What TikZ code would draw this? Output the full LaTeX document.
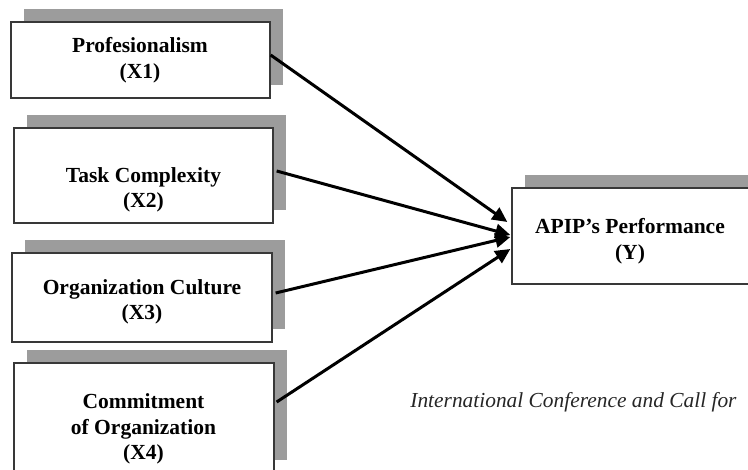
\documentclass[tikz,border=0pt]{standalone}
\usepackage{fontspec}
\setmainfont{Liberation Serif}
\usetikzlibrary{shadows,arrows.meta,calc}
\definecolor{shadowgray}{HTML}{9C9C9C}
\definecolor{bordergray}{HTML}{383838}
\tikzset{
  boxnode/.style={draw=bordergray, line width=0.65pt, fill=white, inner sep=0pt,
    general shadow={fill=shadowgray, draw=none, shadow xshift=6.5pt, shadow yshift=6.5pt}},
  lbl/.style={font=\fontsize{10.75pt}{12.75pt}\selectfont\bfseries, align=center, inner sep=0pt},
  conn/.style={line width=1.5pt, -{Triangle[length=7.5pt,width=7pt]}},
  note/.style={font=\fontsize{10.7pt}{12pt}\selectfont\itshape, anchor=base west, inner sep=0pt, text=black!85}
}
\begin{document}
\begin{tikzpicture}[x=0.5pt,y=-0.5pt]
\useasboundingbox (0,0) rectangle (748,470);
\clip (0,0) rectangle (748,470);
\node[boxnode, minimum width=129.5pt, minimum height=38pt] (x1) at (140.5,60) {};
\node[boxnode, minimum width=129.5pt, minimum height=47.5pt] (x2) at (143.5,175.5) {};
\node[boxnode, minimum width=130pt, minimum height=44.5pt] (x3) at (142,297.5) {};
\node[boxnode, minimum width=130pt, minimum height=55pt] (x4) at (144,418) {};
\node[boxnode, minimum width=120pt, minimum height=48pt] (y) at (632,236) {};
\node[lbl] (t1) at (140,60) {Profesionalism\\(X1)};
\node[lbl] (t2) at (143.5,190) {Task Complexity\\(X2)};
\node[lbl] (t3) at (142,302) {Organization Culture\\(X3)};
\node[lbl] (t4) at (143.5,429) {Commitment\\of Organization\\(X4)};
\node[lbl] (ty) at (630,241) {APIP’s Performance\\(Y)};
\draw[conn] ($(x1.east)+(0,-5)$) -- ($(y.west)+(-4,-14)$);
\draw[conn] ($(x2.east)+(3,-4.5)$) -- ($(y.west)+(-1,-1)$);
\draw[conn] ($(x3.east)+(3,-4.5)$) -- ($(y.west)+(-1,1)$);
\draw[conn] ($(x4.east)+(2,-16)$) -- ($(y.west)+(-1,13)$);
\node[note] (n) at (410,407) {International Conference and Call for};
\end{tikzpicture}
\end{document}
